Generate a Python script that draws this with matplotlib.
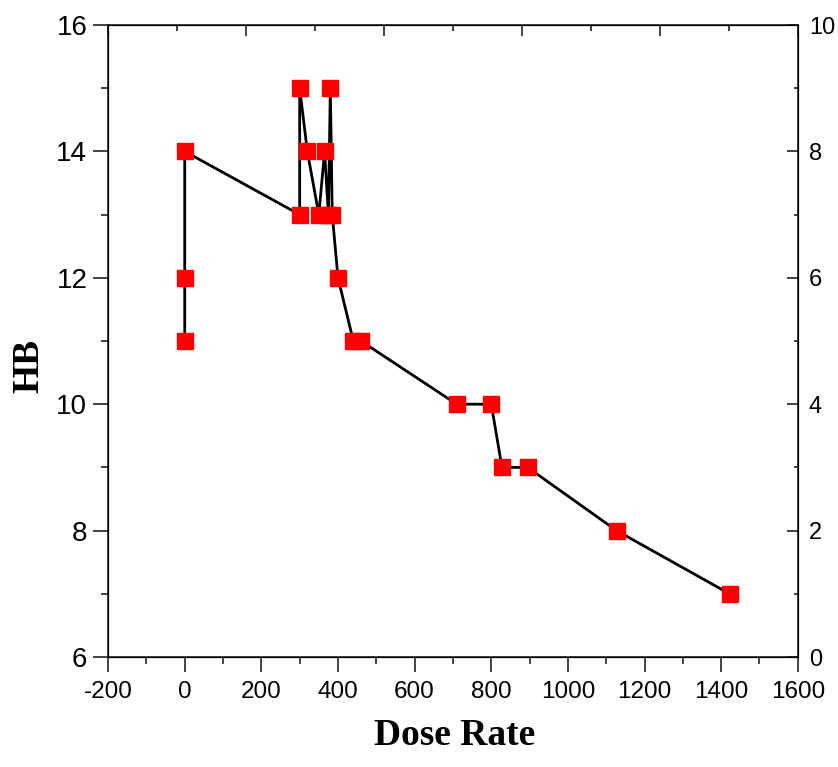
import matplotlib
matplotlib.use('Agg')
import matplotlib.pyplot as plt
from matplotlib.ticker import MultipleLocator

plt.rcParams['axes.unicode_minus'] = False

# data, in drawing order
dose_rate = [0, 0, 0, 300, 300, 320, 350, 365, 375, 380, 385, 400, 440, 460,
             710, 800, 828, 895, 1127, 1422]
hb = [11, 12, 14, 13, 15, 14, 13, 14, 13, 15, 13, 12, 11, 11,
      10, 10, 9, 9, 8, 7]

x_ticks = [-200, 0, 200, 400, 600, 800, 1000, 1200, 1400, 1600]
y_ticks = [6, 8, 10, 12, 14, 16]
right_ticks = [0, 2, 4, 6, 8, 10]

sans = 'Liberation Sans'
serif = 'Liberation Serif'
spine_col = '#222222'

fig = plt.figure(figsize=(8.38, 7.67), dpi=100)
ax = fig.add_axes([0.129, 0.1434, 0.823, 0.8240])

ax.plot(dose_rate, hb, color='black', linewidth=2.0, zorder=2)
ax.plot(dose_rate, hb, linestyle='none', marker='s', markersize=11.3,
        markerfacecolor='#ff0000', markeredgecolor='#ff0000', zorder=3)

ax.set_xlim(-200, 1600)
ax.set_ylim(6, 16)
ax.set_xticks(x_ticks)
ax.set_yticks(y_ticks)
ax.xaxis.set_minor_locator(MultipleLocator(100))
ax.yaxis.set_minor_locator(MultipleLocator(1))
ax.tick_params(axis='both', which='major', direction='out', length=11,
               width=1.2, color=spine_col)
ax.tick_params(axis='both', which='minor', direction='out', length=5,
               width=1.2, color=spine_col)
ax.tick_params(axis='x', which='major', labelsize=17.5, pad=6)
ax.tick_params(axis='y', which='major', labelsize=20, pad=4)
for lab in ax.get_xticklabels() + ax.get_yticklabels():
    lab.set_fontfamily(sans)
for s in ax.spines.values():
    s.set_linewidth(1.2)
    s.set_color(spine_col)

ax.set_xlabel('Dose Rate', fontfamily=serif, fontweight='bold', fontsize=27)
ax.set_ylabel('HB', fontfamily=serif, fontweight='bold', fontsize=27)
ax.xaxis.set_label_coords(0.503, -0.097)
ax.yaxis.set_label_coords(-0.09, 0.46)

# right axis
axr = ax.twinx()
axr.set_ylim(0, 10)
axr.set_yticks(right_ticks)
axr.yaxis.set_minor_locator(MultipleLocator(1))
axr.tick_params(axis='y', which='major', direction='in', length=8, width=1.2,
                color=spine_col, labelsize=17, pad=8)
axr.tick_params(axis='y', which='minor', direction='in', length=3, width=1.2,
                color=spine_col)
for lab in axr.get_yticklabels():
    lab.set_fontfamily(sans)

# top axis, ticks only
axt = ax.twiny()
axt.set_xlim(0, 10)
axt.set_xticks([0, 2, 4, 6, 8, 10])
axt.xaxis.set_minor_locator(MultipleLocator(1))
axt.tick_params(axis='x', which='major', direction='in', length=8, width=1.2,
                color=spine_col, labeltop=False)
axt.tick_params(axis='x', which='minor', direction='in', length=4, width=1.2,
                color=spine_col)

fig.savefig('out.png', dpi=100)
